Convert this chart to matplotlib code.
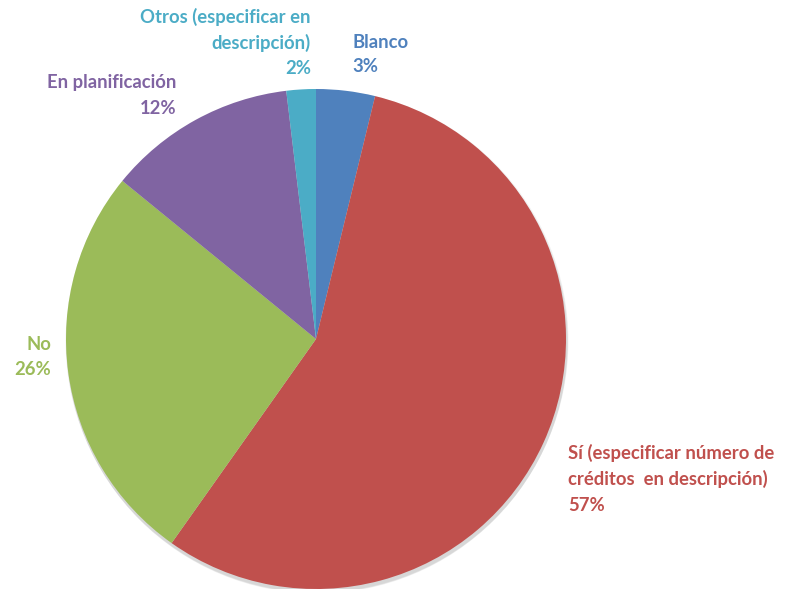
import matplotlib
matplotlib.use("Agg")
import matplotlib.pyplot as plt
from matplotlib.patches import Circle

categories = ["Blanco", "Sí (especificar número de\ncréditos  en descripción)", "No",
              "En planificación", "Otros (especificar en\ndescripción)"]
values = [3.8, 56.0, 26.1, 12.2, 1.9]
pct_labels = ["3%", "57%", "26%", "12%", "2%"]
colors = ["#4F81BD", "#C0504D", "#9BBB59", "#8064A2", "#4BACC6"]

W, H = 786, 589
fig = plt.figure(figsize=(W / 100, H / 100), dpi=100)
ax = fig.add_axes([0, 0, 1, 1])

cx, cy, r = 316, H - 339, 250
# soft shadow
for i, a in enumerate([0.05, 0.05, 0.06]):
    ax.add_patch(Circle((cx + 1, cy - 2 - i), r + 1.5 - i * 0.5, color="#000000", alpha=a, lw=0, zorder=0))

ax.pie(values, colors=colors, startangle=90, counterclock=False, center=(cx, cy), radius=r,
       wedgeprops=dict(linewidth=0), frame=True)
ax.set_xlim(0, W)
ax.set_ylim(0, H)
ax.set_aspect("equal")
ax.axis("off")

font = dict(family=["Lato", "DejaVu Sans"], fontweight="bold", fontsize=13.3)
# label anchor positions (pixel x, centre y of first line, line step, alignment)
pos = [
    (352, 42, 25, "left"),
    (568, 453, 26.3, "left"),
    (51, 344, 25.5, "right"),
    (176, 82.5, 25.5, "right"),
    (311, 17, 25.5, "right"),
]
for cat, pct, col, (px, py, step, ha) in zip(categories, pct_labels, colors, pos):
    lines = cat.split("\n") + [pct]
    for i, line in enumerate(lines):
        ax.text(px, H - (py + i * step), line, color=col, ha=ha, va="center", **font)

fig.savefig("out.png", dpi=100)
